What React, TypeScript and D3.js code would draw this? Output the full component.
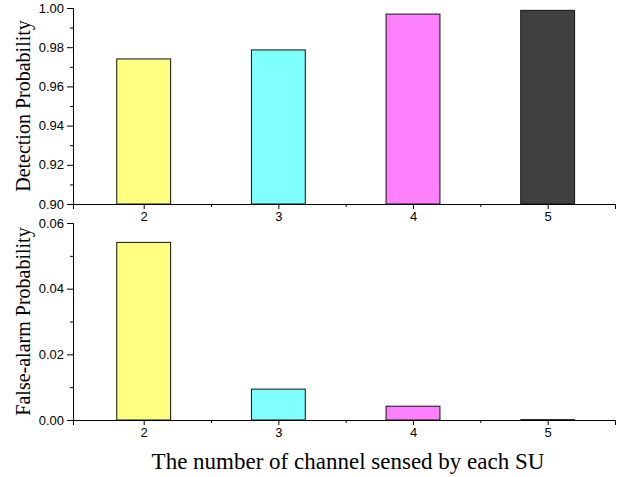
import * as d3 from 'd3';
import React, { useRef, useEffect } from 'react';

// channels sensed by each SU
const channels = [2, 3, 4, 5];
const detectionProb = [0.974, 0.9786, 0.9969, 0.9988];
const falseAlarmProb = [0.0541, 0.0094, 0.0042, 0.0001];
const barColors = ['#ffff80', '#80ffff', '#ff80ff', '#404040'];
const detTicks = [0.9, 0.92, 0.94, 0.96, 0.98, 1.0];
const faTicks = [0, 0.02, 0.04, 0.06];

const W = 626;
const H = 477;

function App() {
    const ref = useRef(null);

    useEffect(() => {
        const svg = d3.select(ref.current);
        svg.selectAll('*').remove();

        const x = d3.scaleLinear().domain([1.475, 5.5]).range([73, 615]);
        const barW = x(2.2) - x(1.8);
        const tickFont = 'Arial, "Liberation Sans", sans-serif';
        const serif = '"Liberation Serif", "Times New Roman", serif';

        const panel = (vals, yDomain, yRange, ticks, fmt, title) => {
            const y = d3.scaleLinear().domain(yDomain).range(yRange);
            const g = svg.append('g');

            g.selectAll('rect.bar')
                .data(vals).enter()
                .append('rect')
                .attr('x', (d, i) => x(channels[i]) - barW / 2)
                .attr('y', d => y(d))
                .attr('width', barW)
                .attr('height', d => y(yDomain[0]) - y(d))
                .attr('fill', (d, i) => barColors[i])
                .attr('stroke', '#111')
                .attr('stroke-width', 1);

            // minor y ticks halfway between the majors
            const step = ticks[1] - ticks[0];
            const minors = ticks.slice(0, -1).map(t => t + step / 2);
            const yAxis = d3.axisLeft(y).tickValues(ticks).tickFormat(fmt).tickSizeOuter(0).tickSize(6);
            const yg = g.append('g').attr('transform', 'translate(73,0)').call(yAxis);
            yg.selectAll('text').attr('font-family', tickFont).attr('font-size', 13).attr('fill', '#000').attr('x', -9);
            yg.selectAll('line, path').attr('stroke', '#000');
            g.append('g').attr('transform', 'translate(73,0)')
                .call(d3.axisLeft(y).tickValues(minors).tickFormat(() => '').tickSize(3).tickSizeOuter(0))
                .selectAll('line, path').attr('stroke', '#000');

            const base = y(yDomain[0]);
            const xAxis = d3.axisBottom(x).tickValues(channels).tickFormat(d3.format('d')).tickSizeOuter(0).tickSize(5);
            const xg = g.append('g').attr('transform', `translate(0,${base})`).call(xAxis);
            xg.selectAll('text').attr('font-family', tickFont).attr('font-size', 13).attr('fill', '#000').attr('y', 8);
            xg.selectAll('line, path').attr('stroke', '#000');
            g.append('g').attr('transform', `translate(0,${base})`)
                .call(d3.axisBottom(x).tickValues([2.5, 3.5, 4.5, 5.5]).tickFormat(() => '').tickSize(3).tickSizeOuter(0))
                .selectAll('line, path').attr('stroke', '#000');

            g.append('text')
                .attr('transform', `translate(30,${(yRange[0] + yRange[1]) / 2}) rotate(-90)`)
                .attr('text-anchor', 'middle')
                .attr('font-family', serif)
                .attr('font-size', 20)
                .text(title);
        };

        panel(detectionProb, [0.9, 1.0], [204, 8], detTicks, d3.format('.2f'), 'Detection Probability');
        panel(falseAlarmProb, [0, 0.06], [420, 223], faTicks, d3.format('.2f'), 'False-alarm Probability');

        svg.append('text')
            .attr('x', 348)
            .attr('y', 469)
            .attr('text-anchor', 'middle')
            .attr('font-family', serif)
            .attr('font-size', 23)
            .text('The number of channel sensed by each SU');
    }, []);

    return (
        <svg ref={ref} width={W} height={H}
            style={{ position: 'absolute', left: 0, top: 0, background: '#fff' }}>
        </svg>
    );
}

export default App;
